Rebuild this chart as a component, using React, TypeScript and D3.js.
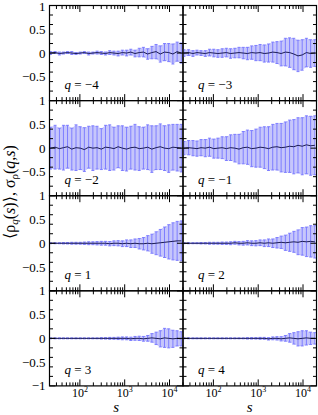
import React from 'react'
import * as d3 from 'd3'

// scale values s (log axis)
const sValues = [22, 28, 35, 43, 53, 66, 82, 102, 126, 157, 195, 242, 301, 373, 463, 575,
  714, 887, 1102, 1368, 1698, 2109, 2618, 3251, 4036, 5012, 6223, 7727, 9594, 11912, 14791, 18365]

const qValues = [-4, -3, -2, -1, 1, 2, 3, 4]

// <rho_q(s)> for each q
const meanQm4 = [0.00, 0.01, -0.01, 0.00, 0.01, 0.00, -0.01, 0.00, 0.01, -0.01, 0.00, 0.01, 0.00, -0.01, 0.01, 0.00,
  -0.01, 0.01, 0.00, 0.02, -0.01, 0.01, 0.02, -0.02, 0.01, 0.03, -0.02, 0.02, 0.01, -0.02, 0.03, 0.00]
const meanQm3 = [0.00, 0.01, -0.01, 0.01, 0.00, -0.01, 0.01, 0.00, -0.01, 0.00, 0.01, -0.01, 0.00, 0.01, 0.00, -0.01,
  0.01, 0.00, 0.01, -0.01, 0.00, 0.02, 0.01, -0.01, 0.02, 0.01, -0.02, -0.06, -0.04, 0.01, -0.01, 0.00]
const meanQm2 = [0.00, 0.02, -0.01, 0.01, 0.03, -0.02, 0.01, 0.00, -0.03, 0.02, 0.00, 0.01, -0.02, 0.02, 0.01, -0.01,
  0.03, 0.00, -0.02, 0.01, 0.02, -0.01, 0.00, 0.02, -0.02, 0.01, 0.03, 0.00, -0.01, 0.02, 0.01, 0.00]
const meanQm1 = [0.00, 0.01, 0.00, -0.01, 0.01, 0.00, 0.02, -0.01, 0.00, 0.01, -0.01, 0.01, 0.00, -0.02, 0.01, 0.02,
  -0.01, 0.00, 0.02, 0.01, -0.01, 0.02, 0.03, 0.01, 0.02, 0.04, 0.03, 0.06, 0.04, 0.07, 0.05, 0.06]
const meanQ1 = [0.00, 0.00, 0.00, 0.00, 0.00, 0.00, 0.00, 0.00, 0.00, 0.00, 0.00, 0.00, 0.00, 0.00, -0.01, 0.00,
  0.00, -0.01, 0.00, -0.01, 0.00, -0.01, -0.01, 0.00, -0.01, 0.00, 0.01, 0.02, 0.03, 0.04, 0.05, 0.05]
const meanQ2 = [0.00, 0.00, 0.00, 0.00, 0.00, 0.00, 0.00, 0.00, 0.00, 0.00, 0.00, 0.00, 0.01, 0.00, 0.00, 0.01,
  0.00, 0.00, 0.01, 0.00, 0.01, 0.00, 0.01, 0.02, 0.01, 0.02, 0.03, 0.02, 0.04, 0.03, 0.04, 0.03]
const meanQ3 = [0.00, 0.00, 0.00, 0.00, 0.00, 0.00, 0.00, 0.00, 0.00, 0.00, 0.00, 0.00, 0.00, 0.00, 0.00, 0.00,
  0.00, 0.00, 0.00, -0.01, 0.00, 0.00, -0.01, 0.00, 0.01, 0.00, -0.01, 0.01, 0.00, -0.01, 0.00, -0.01]
const meanQ4 = [0.00, 0.00, 0.00, 0.00, 0.00, 0.00, 0.00, 0.00, 0.00, 0.00, 0.00, 0.00, 0.00, 0.00, 0.00, 0.00,
  0.00, 0.00, 0.00, 0.00, -0.01, 0.00, 0.00, -0.01, 0.00, 0.01, 0.00, -0.01, 0.00, 0.01, 0.00, 0.00]

// sigma_rho(q,s) for each q
const sigmaQm4 = [0.03, 0.02, 0.03, 0.02, 0.02, 0.03, 0.02, 0.02, 0.02, 0.03, 0.02, 0.03, 0.03, 0.03, 0.04, 0.04,
  0.05, 0.05, 0.06, 0.06, 0.07, 0.09, 0.10, 0.11, 0.13, 0.15, 0.17, 0.18, 0.19, 0.21, 0.20, 0.21]
const sigmaQm3 = [0.07, 0.06, 0.06, 0.05, 0.05, 0.06, 0.07, 0.08, 0.08, 0.09, 0.09, 0.10, 0.10, 0.11, 0.12, 0.13,
  0.14, 0.16, 0.17, 0.18, 0.19, 0.21, 0.23, 0.26, 0.29, 0.31, 0.33, 0.33, 0.32, 0.30, 0.29, 0.28]
const sigmaQm2 = [0.44, 0.46, 0.43, 0.47, 0.45, 0.44, 0.48, 0.45, 0.46, 0.44, 0.47, 0.45, 0.43, 0.46, 0.48, 0.45,
  0.44, 0.47, 0.46, 0.45, 0.48, 0.46, 0.44, 0.47, 0.49, 0.46, 0.48, 0.47, 0.50, 0.48, 0.49, 0.50]
const sigmaQm1 = [0.14, 0.15, 0.16, 0.16, 0.17, 0.18, 0.19, 0.20, 0.21, 0.23, 0.25, 0.27, 0.29, 0.31, 0.34, 0.36,
  0.38, 0.40, 0.42, 0.44, 0.46, 0.48, 0.49, 0.51, 0.53, 0.55, 0.57, 0.58, 0.60, 0.61, 0.62, 0.62]
const sigmaQ1 = [0.01, 0.01, 0.01, 0.015, 0.015, 0.02, 0.02, 0.02, 0.025, 0.03, 0.03, 0.035, 0.04, 0.04, 0.045, 0.05,
  0.055, 0.06, 0.07, 0.08, 0.09, 0.11, 0.13, 0.16, 0.20, 0.24, 0.28, 0.32, 0.36, 0.39, 0.41, 0.42]
const sigmaQ2 = [0.01, 0.01, 0.01, 0.01, 0.015, 0.015, 0.02, 0.02, 0.02, 0.025, 0.025, 0.03, 0.03, 0.035, 0.04, 0.045,
  0.05, 0.055, 0.06, 0.07, 0.08, 0.09, 0.11, 0.13, 0.16, 0.19, 0.22, 0.26, 0.29, 0.31, 0.33, 0.34]
const sigmaQ3 = [0.01, 0.01, 0.01, 0.01, 0.01, 0.01, 0.01, 0.01, 0.01, 0.01, 0.01, 0.01, 0.015, 0.015, 0.02, 0.02,
  0.025, 0.03, 0.03, 0.035, 0.04, 0.045, 0.05, 0.06, 0.09, 0.13, 0.17, 0.20, 0.20, 0.18, 0.16, 0.15]
const sigmaQ4 = [0.01, 0.01, 0.01, 0.01, 0.01, 0.01, 0.01, 0.01, 0.01, 0.01, 0.01, 0.01, 0.01, 0.01, 0.01, 0.015,
  0.015, 0.015, 0.02, 0.02, 0.025, 0.03, 0.035, 0.045, 0.06, 0.09, 0.12, 0.15, 0.16, 0.15, 0.13, 0.12]

const means = [meanQm4, meanQm3, meanQm2, meanQm1, meanQ1, meanQ2, meanQ3, meanQ4]
const sigmas = [sigmaQm4, sigmaQm3, sigmaQm2, sigmaQm1, sigmaQ1, sigmaQ2, sigmaQ3, sigmaQ4]

const sDomain = [21, 20000]
const rhoDomain = [-1, 1]

const W = 318
const H = 415
const left = 49.5
const colW = 133.5
const top = 5.5
const rowH = 95.1
const font = 'Liberation Serif, Times New Roman, Times, DejaVu Serif, serif'

const fillColor = '#c6c6fb'
const barColor = '#7676ff'
const lineColor = '#1c1c55'

const minus = (v: number) => (v < 0 ? '\u2212' + Math.abs(v) : String(v))

const Panel = ({ idx }: { idx: number }) => {
  const col = idx % 2
  const row = Math.floor(idx / 2)
  const x0 = left + col * colW
  const y0 = top + row * rowH
  const x = d3.scaleLog().domain(sDomain).range([x0, x0 + colW])
  const y = d3.scaleLinear().domain(rhoDomain).range([y0 + rowH, y0])
  const mean = means[idx]
  const sigma = sigmas[idx]
  const pts = sValues.map((s, i) => ({ s, m: mean[i], e: sigma[i] }))

  const area = d3.area<any>()
    .x((d) => x(d.s))
    .y0((d) => y(d.m - d.e))
    .y1((d) => y(d.m + d.e))
  const line = d3.line<any>()
    .x((d) => x(d.s))
    .y((d) => y(d.m))

  const xTicks = x.ticks()
  const isMajor = (t: number) => Math.abs(Math.log10(t) - Math.round(Math.log10(t))) < 1e-9
  const yTicks = y.ticks(8)
  const clipId = `clip${idx}`

  return (
    <g>
      <defs>
        <clipPath id={clipId}>
          <rect x={x0} y={y0} width={colW} height={rowH} />
        </clipPath>
      </defs>
      <g clipPath={`url(#${clipId})`}>
        <path d={area(pts) || ''} fill={fillColor} />
        {pts.map((d, i) => (
          <g key={i} stroke={barColor} strokeWidth={0.9}>
            <line x1={x(d.s)} x2={x(d.s)} y1={y(d.m - d.e)} y2={y(d.m + d.e)} />
            <line x1={x(d.s) - 1.5} x2={x(d.s) + 1.5} y1={y(d.m - d.e)} y2={y(d.m - d.e)} />
            <line x1={x(d.s) - 1.5} x2={x(d.s) + 1.5} y1={y(d.m + d.e)} y2={y(d.m + d.e)} />
          </g>
        ))}
        <path d={line(pts) || ''} fill="none" stroke={lineColor} strokeWidth={1} />
      </g>
      {/* x ticks on top and bottom edges, pointing inward */}
      {xTicks.map((t) => {
        const len = isMajor(t) ? 6.5 : 3.5
        return (
          <g key={'xt' + t} stroke="#000" strokeWidth={1}>
            <line x1={x(t)} x2={x(t)} y1={y0} y2={y0 + len} />
            <line x1={x(t)} x2={x(t)} y1={y0 + rowH} y2={y0 + rowH - len} />
          </g>
        )
      })}
      {/* y ticks on left and right edges */}
      {yTicks.map((t) => {
        const len = Math.abs(t * 2 - Math.round(t * 2)) < 1e-9 ? 6 : 3.5
        return (
          <g key={'yt' + t} stroke="#000" strokeWidth={1}>
            <line x1={x0} x2={x0 + len} y1={y(t)} y2={y(t)} />
            <line x1={x0 + colW} x2={x0 + colW - len} y1={y(t)} y2={y(t)} />
          </g>
        )
      })}
      <rect x={x0} y={y0} width={colW} height={rowH} fill="none" stroke="#000" strokeWidth={1.2} />
      {col === 0 &&
        y.ticks(4)
          .filter((t) => row === 3 || t > -1)
          .map((t) => (
            <text key={'yl' + t} x={x0 - 4} y={Math.max(y(t), 6.5)} dy="0.35em" textAnchor="end"
              fontSize={13} fontFamily={font}>
              {minus(t)}
            </text>
          ))}
      <text x={x0 + 15} y={y0 + rowH - 12} fontSize={13} fontFamily={font}>
        <tspan fontStyle="italic">q</tspan> = {minus(qValues[idx])}
      </text>
      {row === 3 && (
        <g>
          {xTicks.filter(isMajor).map((t) => (
            <text key={'xl' + t} x={x(t)} y={397} textAnchor="middle" fontSize={12} fontFamily={font}>
              10<tspan dy={-5} fontSize={8}>{Math.round(Math.log10(t))}</tspan>
            </text>
          ))}
          <text x={x0 + colW / 2} y={412} textAnchor="middle" fontSize={15} fontStyle="italic" fontFamily={font}>
            s
          </text>
        </g>
      )}
    </g>
  )
}

const App = () => {
  return (
    <svg width={W} height={H} style={{ position: 'absolute', left: 0, top: 0, background: '#fff' }}>
      <rect x={0} y={0} width={W} height={H} fill="#fff" />
      {qValues.map((q, i) => (
        <Panel key={q} idx={i} />
      ))}
      <text transform="translate(15,192) rotate(-90)" textAnchor="middle" fontSize={16} fontFamily={font}>
        {'\u27E8\u03C1'}
        <tspan dy={3} fontSize={11} fontStyle="italic">q</tspan>
        <tspan dy={-3}>(</tspan>
        <tspan fontStyle="italic">s</tspan>
        <tspan>{')\u27E9, \u03C3'}</tspan>
        <tspan dy={3} fontSize={11}>{'\u03C1'}</tspan>
        <tspan dy={-3}>(</tspan>
        <tspan fontStyle="italic">q</tspan>
        <tspan>,</tspan>
        <tspan fontStyle="italic">s</tspan>
        <tspan>)</tspan>
      </text>
    </svg>
  )
}

export default App
